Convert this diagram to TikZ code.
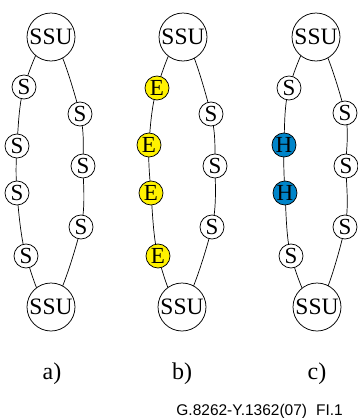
\documentclass[tikz,border=0pt]{standalone}
\usepackage{fontspec}
\setmainfont{Liberation Serif}
\newfontfamily\figsans{Liberation Sans}
\usetikzlibrary{backgrounds}
\definecolor{eyellow}{RGB}{255,242,0}
\definecolor{hblue}{RGB}{0,133,202}
\tikzset{
  ssunode/.style={circle,draw,line width=0.75pt,fill=white,minimum size=48pt,inner sep=0pt,font=\fontsize{23.5}{23.5}\selectfont},
  snode/.style={circle,draw,line width=0.75pt,fill=white,minimum size=24pt,inner sep=0pt,font=\fontsize{23}{23}\selectfont},
  enode/.style={snode,fill=eyellow},
  hnode/.style={snode,fill=hblue},
  ring/.style={line width=0.7pt},
  lbl/.style={font=\fontsize{24}{24}\selectfont},
}
\begin{document}
\begin{tikzpicture}[x=1pt,y=-1pt]
\useasboundingbox (0,0) rectangle (358,418);
% panel a
\node[ssunode] (aT) at (51,37) {SSU};
\node[snode] (aL1) at (24,87) {S};
\node[snode] (aL2) at (17,146) {S};
\node[snode] (aL3) at (17,193) {S};
\node[snode] (aL4) at (26,256) {S};
\node[ssunode] (aB) at (51,307) {SSU};
\node[snode] (aR1) at (80,114) {S};
\node[snode] (aR2) at (83,166) {S};
\node[snode] (aR3) at (81,227) {S};
% panel b
\node[ssunode] (bT) at (183,37) {SSU};
\node[enode] (bL1) at (157,88) {E};
\node[enode] (bL2) at (149,145) {E};
\node[enode] (bL3) at (151,193) {E};
\node[enode] (bL4) at (158,256) {E};
\node[ssunode] (bB) at (182,307) {SSU};
\node[snode] (bR1) at (211,114) {S};
\node[snode] (bR2) at (215,166) {S};
\node[snode] (bR3) at (212,227) {S};
% panel c
\node[ssunode] (cT) at (316,37) {SSU};
\node[snode] (cL1) at (289,88) {S};
\node[hnode] (cL2) at (284,145) {H};
\node[hnode] (cL3) at (285,193) {H};
\node[snode] (cL4) at (291,256) {S};
\node[ssunode] (cB) at (317,307) {SSU};
\node[snode] (cR1) at (345,113) {S};
\node[snode] (cR2) at (346,166) {S};
\node[snode] (cR3) at (345,227) {S};
\begin{scope}[on background layer]
\foreach \p in {a,b,c}{
  \draw[ring] plot[smooth cycle,tension=0.55] coordinates {(\p T) (\p L1) (\p L2) (\p L3) (\p L4) (\p B) (\p R3) (\p R2) (\p R1)};
}
\end{scope}
\node[lbl] (la) at (52,374) {a)};
\node[lbl] (lb) at (182,374) {b)};
\node[lbl] (lc) at (317,374) {c)};
\node[anchor=east,inner sep=0pt,font=\figsans\fontsize{15.5}{15.5}\selectfont] (fig) at (343,411) {G.8262-Y.1362(07)\hspace{9pt}FI.1};
\end{tikzpicture}
\end{document}
